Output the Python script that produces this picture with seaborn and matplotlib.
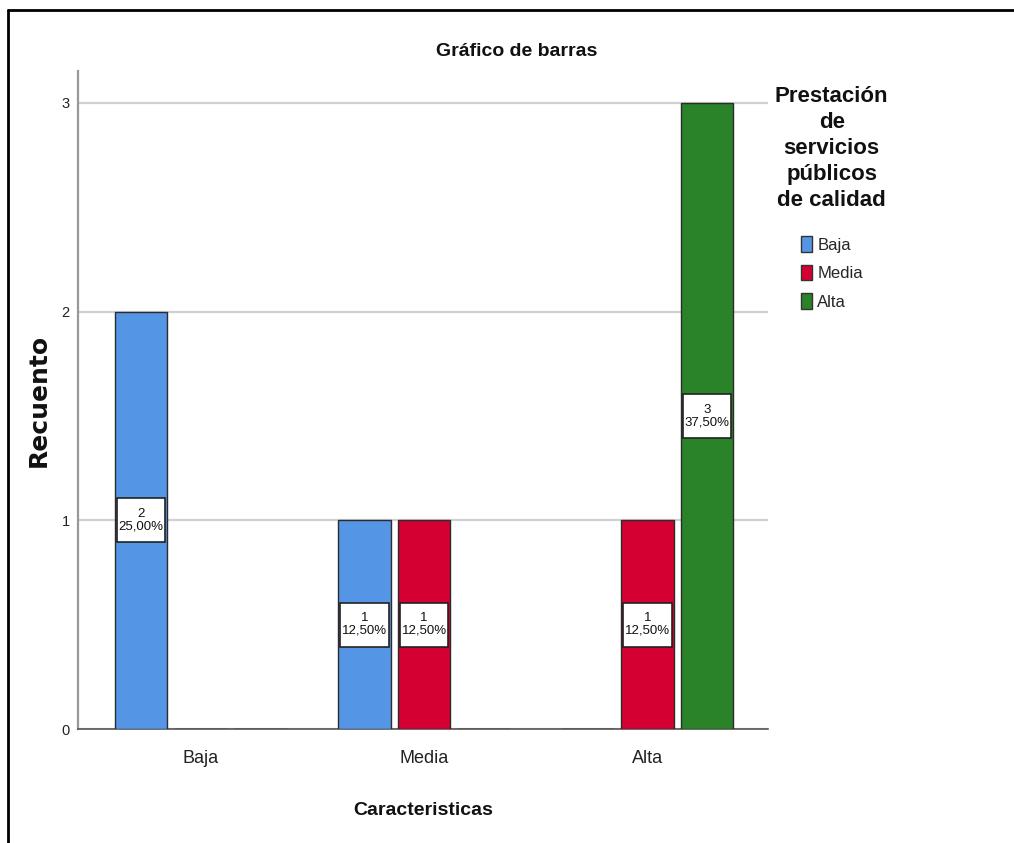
import matplotlib
matplotlib.use("Agg")
import matplotlib.pyplot as plt
from matplotlib.lines import Line2D
from matplotlib.patches import Patch, Rectangle
import seaborn as sns
import pandas as pd

# Data: counts of "Prestación de servicios públicos de calidad" by "Caracteristicas"
categories = ["Baja", "Media", "Alta"]
levels = ["Baja", "Media", "Alta"]
counts_baja = [2, 1, 0]    # level "Baja" in each category
counts_media = [0, 1, 1]   # level "Media"
counts_alta = [0, 0, 3]    # level "Alta"
y_ticks = [0, 1, 2, 3]

colors = {"Baja": "#5595E5", "Media": "#D50032", "Alta": "#2A8229"}

rows = []
for lvl, vals in zip(levels, [counts_baja, counts_media, counts_alta]):
    for cat, v in zip(categories, vals):
        rows.append({"Caracteristicas": cat, "Nivel": lvl, "Recuento": v})
df = pd.DataFrame(rows)
total = df["Recuento"].sum()

sns.set_theme(style="white")
FONT = ["Liberation Sans", "DejaVu Sans"]
plt.rcParams["font.family"] = FONT

fig = plt.figure(figsize=(10.14, 8.43), dpi=100)
ax = fig.add_axes([0.0769, 0.1352, 0.6805, 0.7806])

sns.barplot(data=df, x="Caracteristicas", y="Recuento", hue="Nivel",
            order=categories, hue_order=levels, palette=colors, saturation=1,
            width=0.8, gap=0.12, edgecolor="#2b2b2b", linewidth=1.0,
            legend=False, ax=ax, zorder=3)

ax.set_ylim(0, 3.153)
ax.set_xlim(-0.55, 2.54)
ax.set_yticks(y_ticks)
ax.set_yticklabels([str(t) for t in y_ticks], fontsize=10.5)
ax.tick_params(axis="x", labelsize=13, length=0, pad=15, labelcolor="#222222")
ax.tick_params(axis="y", length=0, pad=6, labelcolor="#222222")
ax.grid(axis="y", color="#d0d0d0", linewidth=1.6, zorder=0)
ax.set_axisbelow(True)

for s in ["top", "right"]:
    ax.spines[s].set_visible(False)
ax.spines["left"].set_color("#999999")
ax.spines["left"].set_linewidth(1.6)
ax.spines["bottom"].set_color("#555555")
ax.spines["bottom"].set_linewidth(1.2)

ax.set_xlabel("Caracteristicas", fontsize=14, fontweight="bold", labelpad=25,
              color="#111111")
ax.set_ylabel("Recuento", fontsize=18, fontweight="bold", family="DejaVu Sans",
              labelpad=8, color="#111111")

# value boxes at the middle of each bar
box_h = 0.21  # box height in data units
for cont in ax.containers:
    for bar in cont:
        v = bar.get_height()
        if v <= 0:
            continue
        bw = bar.get_width()
        cx = bar.get_x() + bw / 2
        ax.add_patch(Rectangle((cx - bw * 0.46, v / 2 - box_h / 2), bw * 0.92, box_h,
                               facecolor="white", edgecolor="#222222",
                               linewidth=1.2, zorder=4))
        pct = f"{v / total * 100:.2f}".replace(".", ",") + "%"
        ax.text(cx, v / 2, f"{int(round(v))}\n{pct}",
                ha="center", va="center", fontsize=9.5, color="#111111",
                linespacing=1.05, zorder=5)

fig.text(0.51, 1 - 52 / 843, "Gráfico de barras", ha="center", va="center",
         fontsize=14, fontweight="bold", color="#111111")

handles = [Patch(facecolor=colors[l], edgecolor="#333333", linewidth=1.0) for l in levels]
leg = ax.legend(handles, levels,
                title="Prestación\nde\nservicios\npúblicos\nde calidad",
                loc="upper left", bbox_to_anchor=(760 / 1014, 1 - 71 / 843),
                bbox_transform=fig.transFigure, frameon=False,
                fontsize=12, title_fontproperties={"weight": "bold", "size": 16,
                                                   "family": FONT},
                handlelength=0.7, handleheight=1.05, handletextpad=0.3,
                labelspacing=0.72, alignment="center")
leg.get_title().set_multialignment("center")
leg.get_title().set_linespacing(1.32)
leg.get_title().set_color("#111111")
# extra room between the legend title and its entries
leg._legend_box.sep = 18

# outer frame lines
fig.add_artist(Line2D([7.5 / 1014, 1.0], [1 - 10 / 843, 1 - 10 / 843],
                      transform=fig.transFigure, color="black", linewidth=2))
fig.add_artist(Line2D([7.5 / 1014, 7.5 / 1014], [0, 1 - 10 / 843],
                      transform=fig.transFigure, color="black", linewidth=2))

fig.savefig("out.png", dpi=100, facecolor="white")
